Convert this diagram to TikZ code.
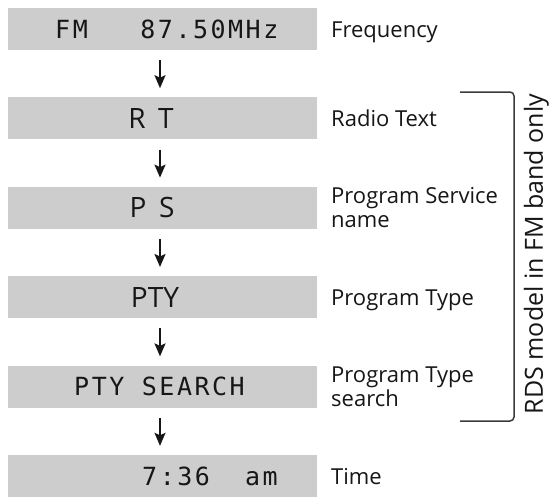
\documentclass[tikz,border=0pt]{standalone}
\usepackage{fontspec}
\setmainfont{Open Sans}
\newfontfamily\lcdfont[LetterSpace=10]{DejaVu Sans Mono}
\usetikzlibrary{arrows.meta}
\definecolor{boxgray}{HTML}{CDCDCD}
\definecolor{ink}{HTML}{161616}
\definecolor{brk}{HTML}{3A3A3A}
\begin{document}
\begin{tikzpicture}[x=1pt,y=-1pt,
  disp/.style={fill=boxgray,draw=none,minimum width=309pt,minimum height=42pt,inner sep=0pt},
  lcd/.style={anchor=base west,inner sep=0pt,text=ink,font=\lcdfont\fontsize{25}{30}\selectfont},
  bigsans/.style={anchor=base,inner sep=0pt,text=ink,font=\fontsize{28}{32}\selectfont},
  lbl/.style={anchor=base west,inner sep=0pt,text=ink,align=left,font=\fontsize{22}{24.5}\selectfont},
  arr/.style={draw=ink,line width=1.8pt,-{Stealth[length=13pt,width=11pt,inset=2.5pt]}},
  bracketline/.style={draw=brk,line width=1.5pt,rounded corners=4pt}]
\useasboundingbox (0,0) rectangle (549,501);
% boxes
\node[disp] (b1) at (162.5,29) {};
\node[disp] (b2) at (162.5,118.4) {};
\node[disp] (b3) at (162.5,207.8) {};
\node[disp] (b4) at (162.5,297.2) {};
\node[disp] (b5) at (162.5,386.6) {};
\node[disp] (b6) at (162.5,476) {};
% display texts
\node[lcd] (t1) at (55,38) {FM~~~87.50MHz};
\node[bigsans] (t2) at (151,128.4) {R\hspace{0.45em}T};
\node[bigsans] (t3) at (152,217.8) {P\hspace{0.45em}S};
\node[bigsans] (t4) at (155,307.2) {PTY};
\node[lcd] (t5) at (74,395.6) {PTY SEARCH};
\node[lcd] (t6) at (142,485) {7:36~~am};
% labels
\node[lbl] (l1) at (331,37) {Frequency};
\node[lbl] (l2) at (331,126.4) {Radio Text};
\node[lbl] (l3) at (331,227.8) {Program Service\\name};
\node[lbl] (l4) at (331,305.2) {Program Type};
\node[lbl] (l5) at (331,406.6) {Program Type\\search};
\node[lbl] (l6) at (331,484) {Time};
% arrows
\foreach \a/\b in {b1/b2,b2/b3,b3/b4,b4/b5,b5/b6}
  \draw[arr] ([xshift=-2.5pt,yshift=-10pt]\a.south) -- ([xshift=-2.5pt,yshift=9pt]\b.north);
% bracket
\coordinate (bt) at (460,92);
\coordinate (bb) at (460,421);
\draw[bracketline] (bt) -- (514,92) -- (514,421) -- (bb);
\node[rotate=90,inner sep=0pt,text=ink,font=\fontsize{25}{28}\selectfont] (rds) at (536.5,254) {RDS model in FM band only};
\end{tikzpicture}
\end{document}
